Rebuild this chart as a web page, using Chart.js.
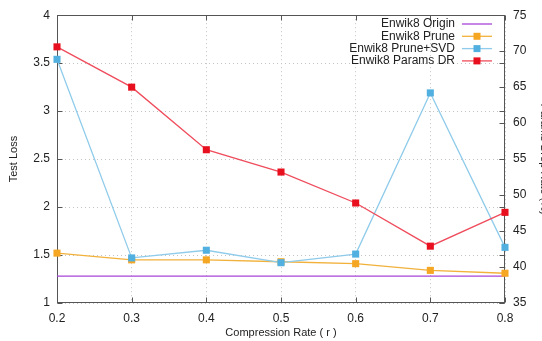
<!DOCTYPE html>
<html>
<head>
<meta charset="utf-8">
<script src="https://cdn.jsdelivr.net/npm/chart.js@4.4.1/dist/chart.umd.min.js"></script>
<style>
  html, body { margin: 0; padding: 0; background: #fff; overflow: hidden; }
  #wrap { width: 560px; height: 341px; }
</style>
</head>
<body>
<div id="wrap"><canvas id="chart" width="560" height="341"></canvas></div>
<script>
// compression rates (x axis)
const rates = ['0.2', '0.3', '0.4', '0.5', '0.6', '0.7', '0.8'];

// test loss, left axis
const originLoss = [1.28, 1.28, 1.28, 1.28, 1.28, 1.28, 1.28];
const pruneLoss = [1.52, 1.45, 1.45, 1.43, 1.41, 1.34, 1.31];
const pruneSvdLoss = [3.54, 1.47, 1.55, 1.42, 1.51, 3.19, 1.58];

// params drop rate (%), right axis
const paramsDropRate = [70.6, 65.0, 56.3, 53.2, 48.9, 42.9, 47.6];

const FONT = '"Liberation Sans", Arial, sans-serif';

// gnuplot style frame: border box + inward ticks on all sides
const frame = {
  id: 'frame',
  beforeDatasetsDraw(chart) {
    const { ctx, chartArea: a, scales } = chart;
    const L = Math.round(a.left) + 0.5, R = Math.round(a.right) - 0.5;
    const T = Math.round(a.top) + 0.5, B = Math.round(a.bottom) - 0.5;
    const len = 5;
    ctx.save();
    ctx.strokeStyle = '#555';
    ctx.lineWidth = 1;
    ctx.beginPath();
    scales.y.ticks.forEach(t => {
      const y = Math.round(scales.y.getPixelForValue(t.value)) + 0.5;
      ctx.moveTo(L, y); ctx.lineTo(L + len, y);
      ctx.moveTo(R, y); ctx.lineTo(R - len, y);
    });
    scales.y1.ticks.forEach(t => {
      const y = Math.round(scales.y1.getPixelForValue(t.value)) + 0.5;
      ctx.moveTo(R, y); ctx.lineTo(R - len, y);
    });
    rates.forEach((r, i) => {
      const x = Math.round(scales.x.getPixelForValue(i)) + 0.5;
      ctx.moveTo(x, B); ctx.lineTo(x, B - len);
      ctx.moveTo(x, T); ctx.lineTo(x, T + len);
    });
    ctx.stroke();
    ctx.strokeRect(L, T, R - L, B - T);
    ctx.restore();
  }
};

// legend inside the top right corner, text right aligned
const keyBox = {
  id: 'keyBox',
  afterDraw(chart) {
    const { ctx } = chart;
    const textRight = 455, x0 = 462, x1 = 492;
    ctx.save();
    ctx.font = '12px ' + FONT;
    ctx.textAlign = 'right';
    ctx.textBaseline = 'middle';
    chart.data.datasets.forEach((ds, i) => {
      const y = 24 + i * 12.3;
      ctx.fillStyle = '#222';
      ctx.fillText(ds.label, textRight, y);
      ctx.strokeStyle = ds.borderColor;
      ctx.lineWidth = 1.3;
      ctx.beginPath();
      ctx.moveTo(x0, y); ctx.lineTo(x1, y);
      ctx.stroke();
      if (ds.pointRadius > 0) {
        ctx.fillStyle = ds.pointBackgroundColor;
        ctx.fillRect(477 - 3.5, y - 3.5, 7, 7);
      }
    });
    ctx.restore();
  }
};

const plainNum = v => String(Number(v.toFixed(2)));

new Chart(document.getElementById('chart'), {
  type: 'line',
  data: {
    labels: rates,
    datasets: [
      {
        label: 'Enwik8 Origin',
        data: originLoss,
        yAxisID: 'y',
        borderColor: '#a844d8',
        borderWidth: 1.3,
        pointRadius: 0,
        order: 4,
        clip: false
      },
      {
        label: 'Enwik8 Prune',
        data: pruneLoss,
        yAxisID: 'y',
        borderColor: '#f2b13a',
        borderWidth: 1.3,
        pointStyle: 'rect',
        pointRadius: 5,
        pointBackgroundColor: '#f5a623',
        pointBorderWidth: 0,
        order: 3,
        clip: false
      },
      {
        label: 'Enwik8 Prune+SVD',
        data: pruneSvdLoss,
        yAxisID: 'y',
        borderColor: '#8fcbea',
        borderWidth: 1.3,
        pointStyle: 'rect',
        pointRadius: 5,
        pointBackgroundColor: '#52b0e0',
        pointBorderWidth: 0,
        order: 2,
        clip: false
      },
      {
        label: 'Enwik8 Params DR',
        data: paramsDropRate,
        yAxisID: 'y1',
        borderColor: '#ef4c5c',
        borderWidth: 1.3,
        pointStyle: 'rect',
        pointRadius: 5,
        pointBackgroundColor: '#e8101e',
        pointBorderWidth: 0,
        order: 1,
        clip: false
      }
    ]
  },
  options: {
    responsive: false,
    animation: false,
    layout: { padding: { top: 15, left: 0, right: 0, bottom: 0 } },
    plugins: {
      legend: { display: false },
      tooltip: { enabled: false }
    },
    scales: {
      x: {
        offset: false,
        grid: { color: '#c4c4c4', drawTicks: false },
        border: { display: false, dash: [1, 3] },
        ticks: { color: '#222', font: { family: FONT, size: 12 }, padding: 8, maxRotation: 0 },
        title: {
          display: true,
          text: 'Compression Rate ( r )',
          color: '#222',
          font: { family: FONT, size: 11 },
          padding: { top: 2, bottom: 1 }
        },
        afterFit: s => { s.height = 38; }
      },
      y: {
        position: 'left',
        min: 1,
        max: 4,
        grid: { color: '#c4c4c4', drawTicks: false },
        border: { display: false, dash: [1, 3] },
        ticks: { stepSize: 0.5, color: '#222', font: { family: FONT, size: 12 }, padding: 7, callback: plainNum },
        title: {
          display: true,
          text: 'Test Loss',
          color: '#222',
          font: { family: FONT, size: 11 },
          padding: { top: 7, bottom: 0 }
        },
        afterFit: s => { s.width = 57; }
      },
      y1: {
        position: 'right',
        min: 35,
        max: 75,
        grid: { display: false, drawTicks: false },
        border: { display: false },
        ticks: { stepSize: 5, color: '#222', font: { family: FONT, size: 12 }, padding: 8, callback: plainNum },
        title: {
          display: true,
          text: 'Params Drop Rate (%)',
          color: '#222',
          font: { family: FONT, size: 11 },
          padding: { top: 9, bottom: 0 }
        },
        afterFit: s => { s.width = 55; }
      }
    }
  },
  plugins: [frame, keyBox]
});
</script>
</body>
</html>
